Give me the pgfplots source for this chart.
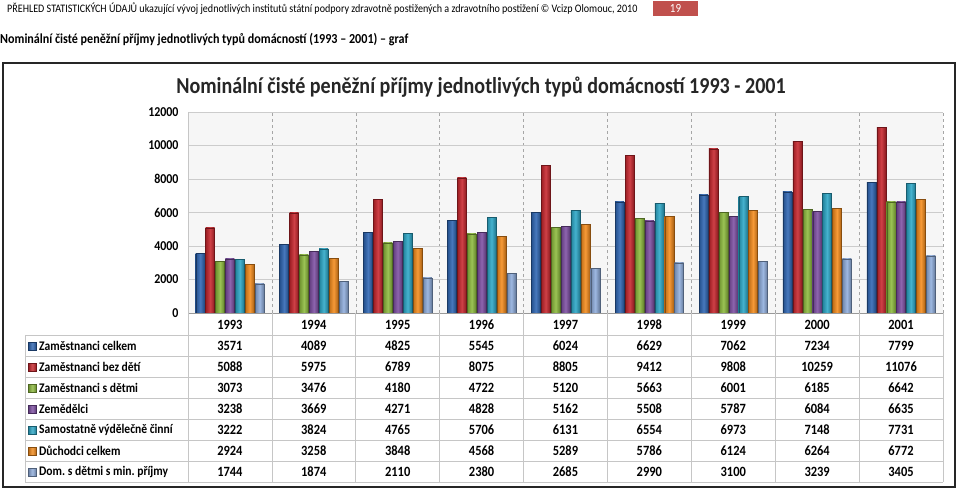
\documentclass[border=0pt]{standalone}
\usepackage{pgfplots}
\usepackage{pgfplotstable}
\pgfplotsset{compat=1.18}
\usepackage{fontspec}
\setmainfont{Carlito}[FakeStretch=0.88]
\frenchspacing
\definecolor{cA}{HTML}{2E66B4}
\definecolor{cB}{HTML}{C8262D}
\definecolor{cC}{HTML}{8DBB3D}
\definecolor{cD}{HTML}{7E4FA3}
\definecolor{cE}{HTML}{2CA8C8}
\definecolor{cF}{HTML}{F58C1C}
\definecolor{cG}{HTML}{90AEDD}
\definecolor{hdr}{HTML}{C0504D}
\pgfplotsset{bar3d/.style={draw=#1!55!black, line width=0.3pt, left color=#1!78!black, right color=#1!70!black, middle color=#1!88!white}}
\pgfplotstableread{
x A B C D E F G
0 3571 5088 3073 3238 3222 2924 1744
1 4089 5975 3476 3669 3824 3258 1874
2 4825 6789 4180 4271 4765 3848 2110
3 5545 8075 4722 4828 5706 4568 2380
4 6024 8805 5120 5162 6131 5289 2685
5 6629 9412 5663 5508 6554 5786 2990
6 7062 9808 6001 5787 6973 6124 3100
7 7234 10259 6185 6084 7148 6264 3239
8 7799 11076 6642 6635 7731 6772 3405
}\data
\newcommand\series[3]{\pgfplotsinvokeforeach{0,...,8}{\addplot[bar3d=#1, bar shift=#2bp, restrict x to domain=##1:##1] table[x=x,y=#3]{\data};}}
\begin{document}
\begin{tikzpicture}[x=1bp,y=-1bp]
\useasboundingbox (0,0) rectangle (960,490);
\fill[white] (0,0) rectangle (960,490);
\node[anchor=west, inner sep=0, font=\fontsize{11.5}{13}\selectfont] at (7,9) {PŘEHLED STATISTICKÝCH ÚDAJŮ ukazující vývoj jednotlivých institutů státní podpory zdravotně postižených a zdravotního postižení © Vcizp Olomouc, 2010};
\fill[hdr] (653,1) rectangle (698,16);
\node[white, inner sep=0, font=\fontsize{12.5}{14}\selectfont] at (675.5,8.5) {19};
\node[anchor=west, inner sep=0, font=\bfseries\fontsize{13.8}{15}\selectfont] at (0,40) {Nominální čisté peněžní příjmy jednotlivých typů domácností (1993 – 2001) – graf};
\node[inner sep=0, font=\bfseries\fontsize{22.9}{25}\selectfont, text=black!85] at (481,87) {Nominální čisté peněžní příjmy jednotlivých typů domácností 1993 - 2001};
\begin{axis}[
 at={(188bp,-313bp)}, anchor=south west,
 scale only axis, width=755bp, height=201bp,
 xmin=-0.5, xmax=8.5, ymin=0, ymax=12000,
 ybar, bar width=9bp,
 axis line style={draw=none},
 xtick={0.5,1.5,...,8.5}, xticklabels={},
 ytick={0,2000,...,12000},
 ymajorgrids, xmajorgrids,
 x grid style={dashed, gray!70},
 y grid style={gray!40},
 major tick length=0pt,
 scaled y ticks=false,
 /pgf/number format/1000 sep={},
 /pgf/number format/assume math mode=true,
 yticklabel style={font=\bfseries\fontsize{13.6}{15}\selectfont, xshift=-6bp},
 axis background/.style={fill=gray!7},
]
\series{cA}{-29.7}{A}
\series{cB}{-19.8}{B}
\series{cC}{-9.9}{C}
\series{cD}{0}{D}
\series{cE}{9.9}{E}
\series{cF}{19.8}{F}
\series{cG}{29.7}{G}
\end{axis}
% table
\draw[gray!80, line width=0.8pt] (188,313) -- (943,313);
\draw[gray!45, line width=0.6pt] (188,112) -- (188,482);
\foreach \yy in {335,356,377,398,419,440,461,482} \draw[gray!45, line width=0.6pt] (25,\yy) -- (943,\yy);
\draw[gray!45, line width=0.6pt] (25,335) -- (25,482);
\foreach \k in {1,...,9} \draw[gray!45, line width=0.6pt] ({188+83.89*\k},313) -- ({188+83.89*\k},482);
\foreach \yr [count=\i from 0] in {1993,...,2001}
  \node[inner sep=0, font=\bfseries\fontsize{14.2}{16}\selectfont] at ({229.9+83.89*\i},324.5) {\yr};
\foreach \name/\col/\vals [count=\j from 0] in {
  Zaměstnanci celkem/cA/{3571,4089,4825,5545,6024,6629,7062,7234,7799},
  Zaměstnanci bez dětí/cB/{5088,5975,6789,8075,8805,9412,9808,10259,11076},
  Zaměstnanci s dětmi/cC/{3073,3476,4180,4722,5120,5663,6001,6185,6642},
  Zemědělci/cD/{3238,3669,4271,4828,5162,5508,5787,6084,6635},
  Samostatně výdělečně činní/cE/{3222,3824,4765,5706,6131,6554,6973,7148,7731},
  Důchodci celkem/cF/{2924,3258,3848,4568,5289,5786,6124,6264,6772},
  Dom. s dětmi s min. příjmy/cG/{1744,1874,2110,2380,2685,2990,3100,3239,3405}} {
  \shade[left color=\col!75!black, right color=\col!75!black, middle color=\col!80!white, draw=\col!55!black, line width=0.3pt] (28.5,{342.5+20.95*\j}) rectangle (36,{350+20.95*\j});
  \node[anchor=west, inner sep=0, font=\bfseries\fontsize{13.2}{15}\selectfont] at (39,{346+20.95*\j}) {\name};
  \foreach \v [count=\i from 0] in \vals
    \node[inner sep=0, font=\bfseries\fontsize{14.2}{16}\selectfont] at ({229.9+83.89*\i},{346+20.95*\j}) {\v};
}
\draw[black!85, line width=2pt] (3,63) rectangle (955,487);
\end{tikzpicture}
\end{document}
